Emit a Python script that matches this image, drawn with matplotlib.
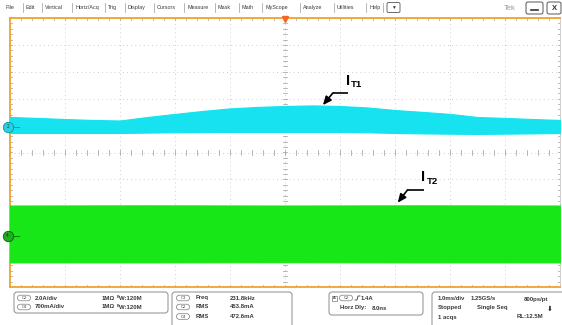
import numpy as np
import matplotlib
matplotlib.use("Agg")
import matplotlib.pyplot as plt
from matplotlib.patches import FancyBboxPatch, Rectangle

plt.rcParams['font.family'] = ['Liberation Sans', 'DejaVu Sans']

# ---- acquisition data (envelope of the switching-frequency waveforms) ----
time_ms = [0.0, 0.5, 1.0, 1.5, 2.0, 2.5, 3.0, 3.5, 4.0, 4.5, 5.0,
           5.5, 6.0, 6.5, 7.0, 7.5, 8.0, 8.5, 9.0, 9.5, 10.0]
it1_upper_A = [0.74, 0.67, 0.59, 0.52, 0.48, 0.74, 0.97, 1.19, 1.38, 1.49, 1.56,
               1.60, 1.56, 1.45, 1.26, 1.12, 0.97, 0.74, 0.67, 0.59, 0.52]
it1_lower_A = [-0.45, -0.45, -0.45, -0.45, -0.45, -0.42, -0.40, -0.38, -0.37, -0.37, -0.37,
               -0.37, -0.37, -0.40, -0.45, -0.48, -0.50, -0.52, -0.50, -0.48, -0.45]

it2_time_ms = [0.0, 2.5, 5.0, 7.5, 10.0]
it2_upper_mA = [790, 795, 790, 795, 790]
it2_lower_mA = [-690, -690, -685, -690, -690]

# channel vertical settings: (units per division, position in divisions)
ch2_scale_A = 2.0
ch2_pos_div = 0.95
ch4_scale_mA = 700.0
ch4_pos_div = -3.10

# readouts
menu_items = ["File", "Edit", "Vertical", "Horiz/Acq", "Trig", "Display", "Cursors",
              "Measure", "Mask", "Math", "MyScope", "Analyze", "Utilities", "Help"]
menu_x = [5, 26, 45, 75, 108, 128, 157, 187, 218, 242, 265, 303, 337, 369]
meas_src = ["C3", "C2", "C4"]
meas_name = ["Freq", "RMS", "RMS"]
meas_value = ["231.8kHz", "453.8mA", "472.6mA"]

CYAN = "#16E2F0"
GREEN = "#17E617"
ORANGE = "#EFA42A"
GRID = "#BDBDBD"
TXT = "#3a3a3a"

fig = plt.figure(figsize=(5.62, 3.25), dpi=100, facecolor="white")

# pixel-space layer for the instrument chrome
ui = fig.add_axes([0, 0, 1, 1])
ui.set_xlim(0, 562)
ui.set_ylim(325, 0)
ui.axis("off")

# menu bar
for i, (name, x) in enumerate(zip(menu_items, menu_x)):
    ui.text(x, 7.5, name, fontsize=3.9, color=TXT, va="center", ha="left")
    sx = (menu_x[i + 1] - 3) if i + 1 < len(menu_x) else 383
    ui.plot([sx, sx], [3, 12], color="#9a9a9a", lw=0.5)
ui.add_patch(FancyBboxPatch((387, 2.5), 13, 10, boxstyle="round,pad=0,rounding_size=1.5",
                            fc="white", ec="#555", lw=0.6))
ui.text(393.5, 7.8, "▼", fontsize=3.5, ha="center", va="center", color="#333")
ui.text(504, 8, "Tek", fontsize=5.5, color="#9c9c9c", ha="left", va="center")
ui.add_patch(FancyBboxPatch((526, 2), 17, 12, boxstyle="round,pad=0,rounding_size=2",
                            fc="white", ec="#555", lw=0.7))
ui.plot([531, 538], [9.5, 9.5], color="#333", lw=1.2)
ui.add_patch(FancyBboxPatch((547, 2), 14, 12, boxstyle="round,pad=0,rounding_size=2",
                            fc="white", ec="#555", lw=0.7))
ui.text(554, 8.2, "X", fontsize=5.5, ha="center", va="center", color="#333", fontweight="bold")


def panel(x0, y0, x1, y1):
    ui.add_patch(FancyBboxPatch((x0, y0), x1 - x0, y1 - y0,
                                boxstyle="round,pad=0,rounding_size=3",
                                fc="white", ec="#8c8c8c", lw=0.7, clip_on=False))


def chan_tag(xc, yc, label):
    ui.add_patch(FancyBboxPatch((xc - 6.5, yc - 2.8), 13, 5.6,
                                boxstyle="round,pad=0,rounding_size=2.8",
                                fc="white", ec="#7a7a7a", lw=0.5))
    ui.text(xc, yc + 0.2, label, fontsize=3.0, ha="center", va="center", color=TXT)


def rt(x, y, s, size=4.3):
    ui.text(x, y, s, fontsize=size, ha="left", va="center", color=TXT, fontweight="bold")


# vertical settings panel
panel(14, 292, 168, 313)
for y, ch, sc in [(298, "C2", "2.0A/div"), (307, "C4", "700mA/div")]:
    chan_tag(24, y, ch)
    rt(35, y, sc)
    rt(102, y, "1MΩ")
    ui.text(117, y - 1.3, "B", fontsize=2.6, ha="left", va="center", color=TXT, fontweight="bold")
    rt(119, y + 0.3, "W:120M")

# measurement panel
panel(172, 292, 292, 335)
for k, y in enumerate([298, 307, 316.5]):
    chan_tag(183, y, meas_src[k])
    rt(196, y, meas_name[k])
    rt(230, y, meas_value[k])

# trigger panel
panel(329, 292, 423, 315)
ui.add_patch(Rectangle((332, 295.5), 5, 5, fc="white", ec="#555", lw=0.4))
ui.text(334.5, 298.2, "A", fontsize=2.8, ha="center", va="center", color=TXT, fontweight="bold")
chan_tag(346, 298, "C2")
ui.plot([355, 357, 358, 360], [300, 300, 296, 296], color=TXT, lw=0.6)
rt(361, 298, "1.4A")
rt(340, 308, "Horz Dly:")
rt(372, 308, "8.0ns")

# timebase / acquisition panel
panel(432, 292, 575, 335)
rt(438, 299, "1.0ms/div")
rt(471, 299, "1.25GS/s")
rt(524, 299, "800ps/pt")
rt(438, 308, "Stopped")
rt(477, 308, "Single Seq")
ui.text(550, 309, "⬇", fontsize=5, ha="center", va="center", color="#222")
rt(438, 317, "1 acqs")
rt(517, 317, "RL:12.5M")

# ---- graticule (10 x 10 divisions) ----
ax = fig.add_axes([10 / 562, 38 / 325, 550 / 562, 269 / 325])
ax.set_zorder(2)
ax.set_facecolor("none")
ax.set_xlim(0, 10)
ax.set_ylim(-5, 5)
ax.set_xticks([])
ax.set_yticks([])
for side in ("top", "left", "bottom"):
    ax.spines[side].set_color(ORANGE)
    ax.spines[side].set_linewidth(1.3)
ax.spines["right"].set_color("#c8c8c8")
ax.spines["right"].set_linewidth(0.6)

for i in range(1, 10):
    ax.plot([i, i], [-5, 5], color=GRID, lw=0.6, ls=(0, (1, 4)), zorder=1)
    ax.plot([0, 10], [i - 5, i - 5], color=GRID, lw=0.6, ls=(0, (1, 4)), zorder=1)

minor_x = np.arange(0, 10.001, 0.2)
minor_y = np.arange(-5, 5.001, 0.2)
tx, ty = 0.045, 0.09
for t in minor_x:
    ax.plot([t, t], [-ty, ty], color="#9a9a9a", lw=0.5, zorder=1)
    ax.plot([t, t], [5 - ty, 5], color="#9a9a9a", lw=0.5, zorder=1)
    ax.plot([t, t], [-5, -5 + ty], color="#9a9a9a", lw=0.5, zorder=1)
for v in minor_y:
    ax.plot([5 - tx, 5 + tx], [v, v], color="#9a9a9a", lw=0.5, zorder=1)
    ax.plot([0, tx], [v, v], color="#9a9a9a", lw=0.5, zorder=1)
    ax.plot([10 - tx, 10], [v, v], color="#9a9a9a", lw=0.5, zorder=1)

# ---- traces ----
t1 = np.array(time_ms)
up1 = ch2_pos_div + np.array(it1_upper_A) / ch2_scale_A
lo1 = ch2_pos_div + np.array(it1_lower_A) / ch2_scale_A
ax.fill_between(t1, lo1, up1, color=CYAN, lw=0.8, ec=CYAN, zorder=3)

t2 = np.array(it2_time_ms)
up2 = ch4_pos_div + np.array(it2_upper_mA) / ch4_scale_mA
lo2 = ch4_pos_div + np.array(it2_lower_mA) / ch4_scale_mA
ax.fill_between(t2, lo2, up2, color=GREEN, lw=0.8, ec=GREEN, zorder=3)

# channel ground markers
ax.plot([-0.04], [ch2_pos_div], marker="o", ms=7.5, mfc="#2ad0de", mec="#0d8f9c",
        mew=0.6, clip_on=False, zorder=6)
ax.text(-0.04, ch2_pos_div, "2", fontsize=3.5, ha="center", va="center", color="#0b4b52",
        zorder=7, clip_on=False)
ax.plot([0.08, 0.16], [ch2_pos_div, ch2_pos_div], color="#0d8f9c", lw=0.6, zorder=6)
ax.plot([-0.04], [ch4_pos_div], marker="o", ms=7.5, mfc="#1fae1f", mec="#0b5e0b",
        mew=0.6, clip_on=False, zorder=6)
ax.text(-0.04, ch4_pos_div, "4", fontsize=3.5, ha="center", va="center", color="#06340a",
        zorder=7, clip_on=False)
ax.plot([0.08, 0.16], [ch4_pos_div, ch4_pos_div], color="#0b5e0b", lw=0.6, zorder=6)

# trigger position marker
ax.plot([5.0], [4.97], marker="v", ms=4, color="#F2642A", clip_on=False, zorder=6)


# ---- trace labels ----
def label(name, sub, tip_t, tip_y, knee_dx, knee_dy, run):
    kx, ky = tip_t + knee_dx, tip_y + knee_dy
    ax.annotate("", xy=(tip_t, tip_y), xytext=(kx, ky),
                arrowprops=dict(arrowstyle="-|>,head_length=0.5,head_width=0.22",
                                color="black", lw=1.2, shrinkA=0, shrinkB=0), zorder=8)
    ax.plot([kx, kx + run], [ky, ky], color="black", lw=1.2, zorder=8,
            solid_capstyle="butt")
    ax.text(kx + run - 0.04, ky + 0.2, name, fontsize=10.5, fontweight="bold",
            ha="left", va="bottom", zorder=8)
    ax.text(kx + run + 0.06, ky + 0.14, sub, fontsize=6.8, fontweight="bold",
            ha="left", va="bottom", zorder=8)


tip1_t = 5.69
tip1_y = np.interp(tip1_t, t1, up1)
label("I", "T1", tip1_t, tip1_y + 0.02, 0.18, 0.45, 0.27)

tip2_t = 7.05
tip2_y = np.interp(tip2_t, t2, up2)
label("I", "T2", tip2_t, tip2_y + 0.1, 0.18, 0.48, 0.29)

fig.savefig("out.png", dpi=100, facecolor="white")
